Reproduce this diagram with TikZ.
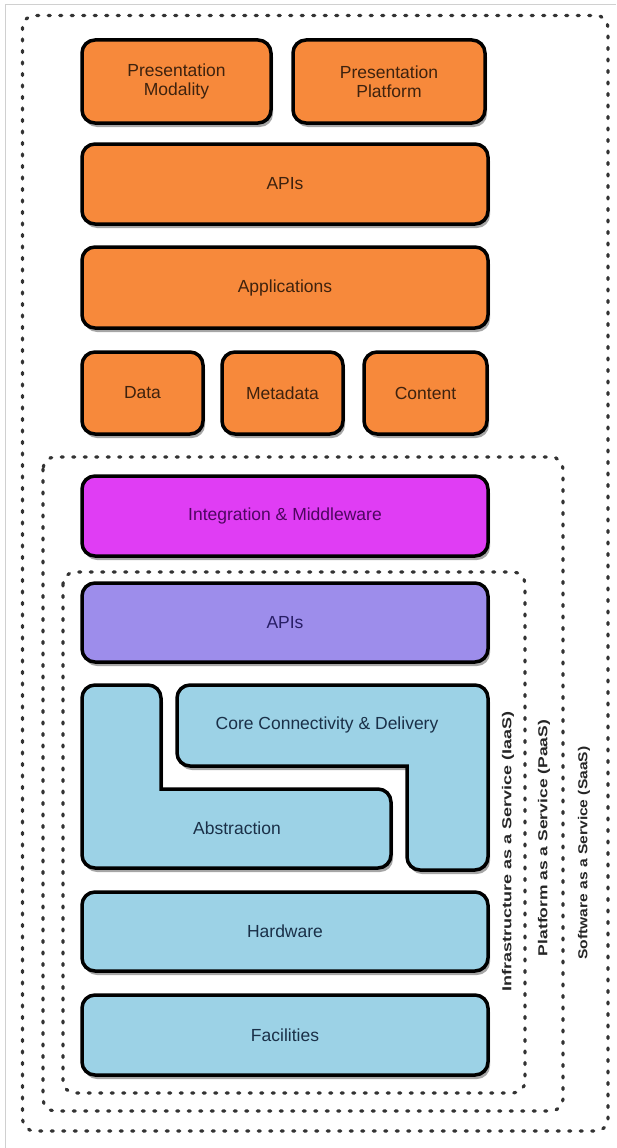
\documentclass[tikz,border=0pt]{standalone}
\usepackage{fontspec}
\setmainfont{Liberation Sans}
\usetikzlibrary{shadows}
\definecolor{orng}{HTML}{F7893B}
\definecolor{orngtxt}{HTML}{3E220E}
\definecolor{magn}{HTML}{E03DF4}
\definecolor{magntxt}{HTML}{4E0660}
\definecolor{purp}{HTML}{9D8DEB}
\definecolor{purptxt}{HTML}{281E66}
\definecolor{lblue}{HTML}{9CD2E6}
\definecolor{bluetxt}{HTML}{1A3048}
\definecolor{dotc}{HTML}{333333}
\definecolor{framec}{HTML}{D0D0D0}
\begin{document}
\begin{tikzpicture}[x=1pt,y=-1pt,
  blk/.style={draw=black,line width=3.5pt,rounded corners=13pt,
    drop shadow={shadow xshift=2pt,shadow yshift=-4pt,opacity=0.35,fill=black}},
  txt/.style={font=\fontsize{17.5}{19.5}\selectfont,align=center},
  obox/.style={blk,fill=orng,txt,text=orngtxt,inner sep=0pt},
  mbox/.style={blk,fill=magn,txt,text=magntxt,inner sep=0pt},
  pbox/.style={blk,fill=purp,txt,text=purptxt,inner sep=0pt},
  bbox/.style={blk,fill=lblue,txt,text=bluetxt,inner sep=0pt},
  dotbox/.style={draw=dotc,line width=3.2pt,line cap=round,dash pattern=on 2pt off 9.5pt,rounded corners=12pt},
  side/.style={font=\fontsize{13}{15}\selectfont\bfseries,text=black!85,rotate=90,inner sep=0pt}]
\useasboundingbox (0,0) rectangle (616,1148);
\fill[white] (0,0) rectangle (616,1148);
\draw[framec,line width=1pt] (5,1148) -- (5,5) -- (616,5);
% containers
\draw[dotbox] (22.5,15.5) rectangle (608,1131);
\draw[dotbox] (43,457) rectangle (563,1111);
\draw[dotbox] (63,572) rectangle (525,1093);
% orange layers
\node[obox,minimum width=189,minimum height=83] (pm) at (176.5,81.5) {Presentation\\Modality};
\node[obox,minimum width=192,minimum height=83] (pp) at (389,81.5) {Presentation\\Platform};
\node[obox,minimum width=406,minimum height=80] (api1) at (285,184) {APIs};
\node[obox,minimum width=406,minimum height=81] (app) at (285,287.5) {Applications};
\node[obox,minimum width=121,minimum height=82] (data) at (142.5,393) {Data};
\node[obox,minimum width=121,minimum height=82] (meta) at (282.5,393) {Metadata};
\node[obox,minimum width=123,minimum height=82] (cont) at (425.5,393) {Content};
% middleware
\node[mbox,minimum width=406,minimum height=80] (integ) at (285,516) {Integration \& Middleware};
\node[pbox,minimum width=406,minimum height=79] (api2) at (285,622.5) {APIs};
% interlocking shapes
\draw[blk,fill=lblue] (82,780) -- (82,685) -- (161,685) [sharp corners] -- (161,789) [rounded corners=13pt] -- (391,789) -- (391,868) -- (82,868) -- cycle;
\draw[blk,fill=lblue] (488,780) -- (488,685) -- (177,685) -- (177,766) [sharp corners] -- (407,766) [rounded corners=13pt] -- (407,870) -- (488,870) -- cycle;
\node[txt,text=bluetxt] (core) at (327,725) {Core Connectivity \& Delivery};
\node[txt,text=bluetxt] (abs) at (237,828) {Abstraction};
% lower layers
\node[bbox,minimum width=406,minimum height=79] (hw) at (285,931.5) {Hardware};
\node[bbox,minimum width=406,minimum height=80] (fac) at (285,1035) {Facilities};
% side labels
\node[side] (iaas) at (508,851) {\resizebox{280pt}{\height}{Infrastructure as a Service (IaaS)}};
\node[side] (paas) at (544,838) {\resizebox{236pt}{\height}{Platform as a Service (PaaS)}};
\node[side] (saas) at (584,853) {\resizebox{213pt}{\height}{Software as a Service (SaaS)}};
\end{tikzpicture}
\end{document}
